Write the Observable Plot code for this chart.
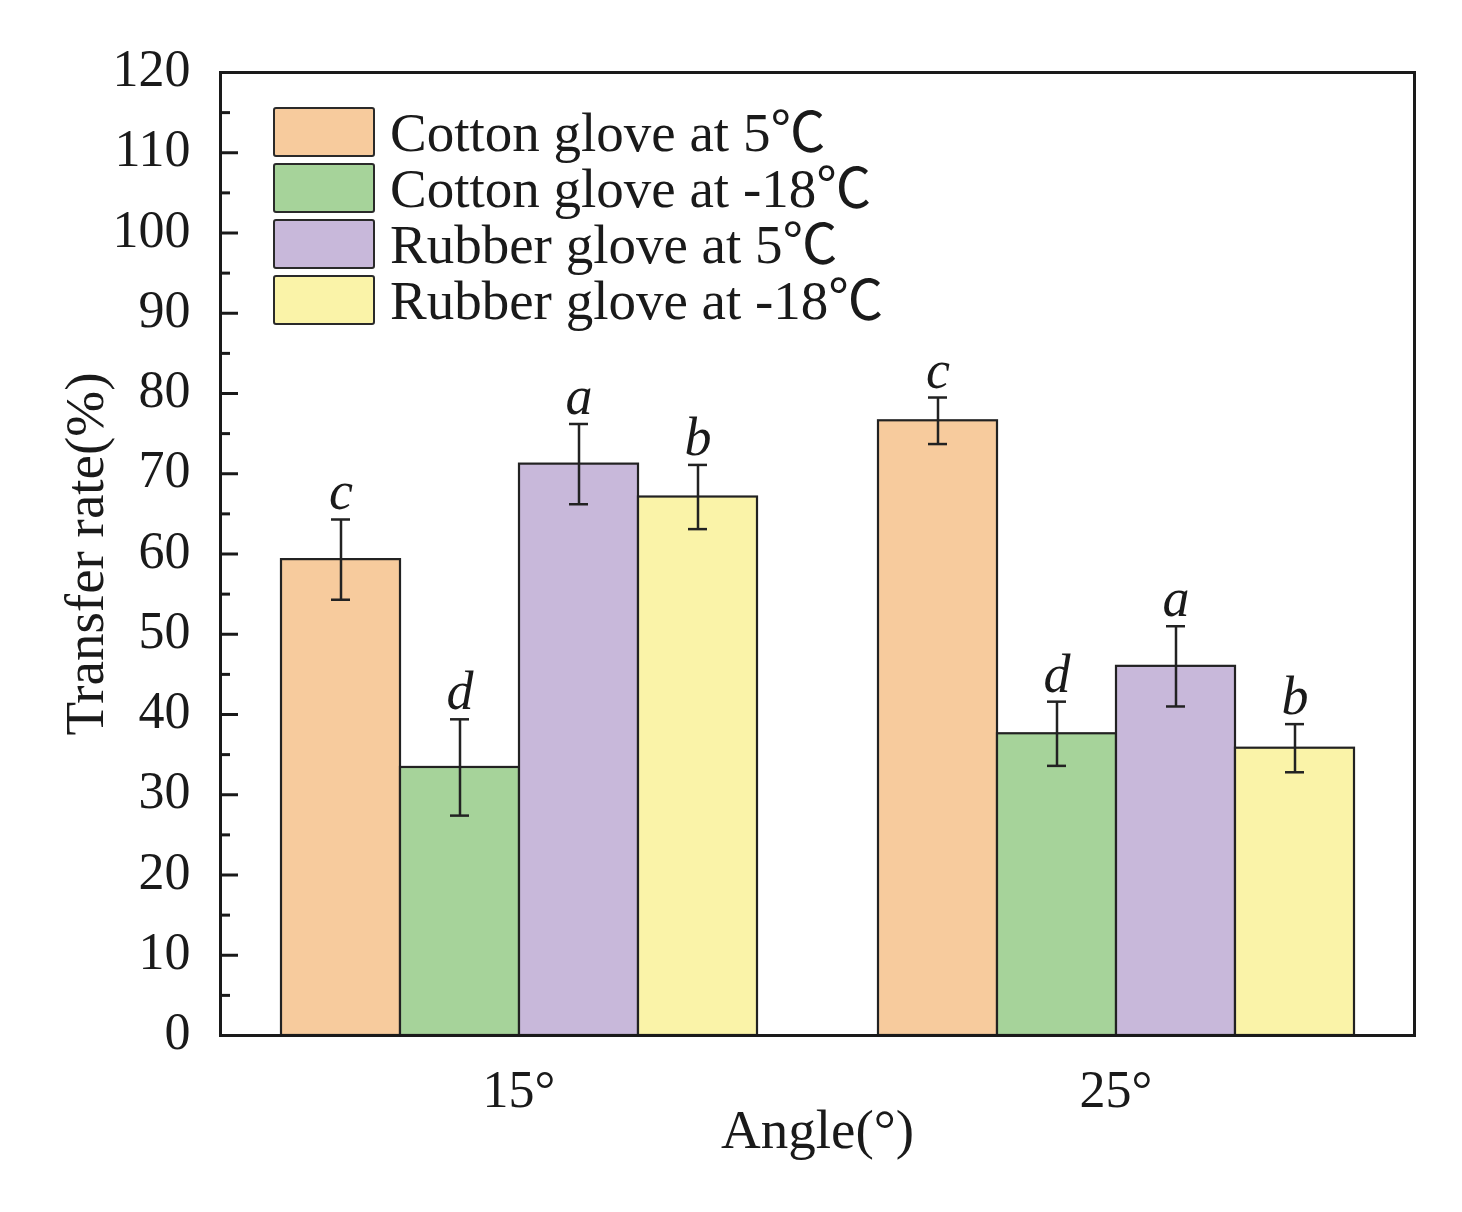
<!DOCTYPE html>
<html>
<head>
<meta charset="utf-8">
<script src="https://cdn.jsdelivr.net/npm/d3@7"></script>
<script src="https://cdn.jsdelivr.net/npm/@observablehq/plot@0.6"></script>
<style>
  body { margin: 0; background: #fff; }
  #wrap { position: relative; width: 1462px; height: 1212px; font-family: "Liberation Serif", "Times New Roman", "Noto Sans CJK SC", serif; color: #1a1a1a; }
  #legend { position: absolute; left: 273px; top: 104px; }
  .row { display: flex; align-items: center; height: 56px; }
  .sw { width: 102px; height: 50px; border: 2px solid #2a2a2a; border-radius: 3px; box-sizing: border-box; }
  .lab { margin-left: 15px; font-size: 55px; line-height: 1; white-space: nowrap; }
</style>
</head>
<body>
<div id="wrap"><div id="legend"></div></div>
<script>
const angles = ["15°", "25°"];
const series = ["Cotton glove at 5℃", "Cotton glove at -18℃", "Rubber glove at 5℃", "Rubber glove at -18℃"];
const colors = ["#f7cb9d", "#a6d39a", "#c8b8da", "#faf3a8"];
const mean15 = [59.3, 33.4, 71.2, 67.1];
const err15  = [5.0, 6.0, 5.0, 4.0];
const mean25 = [76.6, 37.6, 46.0, 35.8];
const err25  = [2.9, 4.0, 5.0, 3.0];
const letters = ["c", "d", "a", "b"];
const yTicks = d3.range(0, 121, 10);
const yMinor = d3.range(5, 120, 10);

const rows = [];
[[mean15, err15], [mean25, err25]].forEach(([m, e], gi) =>
  series.forEach((s, si) => rows.push({
    angle: angles[gi], series: s, mean: m[si],
    lo: m[si] - e[si], hi: m[si] + e[si], letter: letters[si]
  }))
);

const ink = "#1a1a1a";
const chart = Plot.plot({
  width: 1462, height: 1212,
  marginLeft: 220, marginRight: 48, marginTop: 72, marginBottom: 177,
  style: { fontFamily: "Liberation Serif, 'Times New Roman', serif", fontSize: "50px", color: ink, background: "white" },
  fx: { domain: angles, padding: 0, label: null },
  x: { domain: series, paddingInner: 0, paddingOuter: 0.5, axis: null },
  y: { domain: [0, 120] },
  color: { domain: series, range: colors },
  marks: [
    Plot.barY(rows, { fx: "angle", x: "series", y: "mean", fill: "series", stroke: "#222", strokeWidth: 2.2 }),
    Plot.ruleX(rows, { fx: "angle", x: "series", y1: "lo", y2: "hi", stroke: "#222", strokeWidth: 2.5 }),
    Plot.tickY(rows, { fx: "angle", x: "series", y: "hi", inset: 50, stroke: "#222", strokeWidth: 2.5 }),
    Plot.tickY(rows, { fx: "angle", x: "series", y: "lo", inset: 50, stroke: "#222", strokeWidth: 2.5 }),
    Plot.text(rows, { fx: "angle", x: "series", y: "hi", text: "letter", dy: -10, lineAnchor: "bottom", fontStyle: "italic", fontSize: 54, fill: ink }),
    Plot.ruleY([0, 120], { stroke: ink, strokeWidth: 3 }),
    Plot.frame({ anchor: "left", facetAnchor: "left", stroke: ink, strokeWidth: 3 }),
    Plot.frame({ anchor: "right", facetAnchor: "right", stroke: ink, strokeWidth: 3 }),
    Plot.axisY(yTicks, { anchor: "left", tickSize: -18, tickFormat: () => "", strokeWidth: 3, label: null }),
    Plot.axisY(yTicks, { anchor: "left", tickSize: 0, tickPadding: 30, label: null, fontSize: 52, dy: -3 }),
    Plot.axisY(yMinor, { anchor: "left", tickSize: -10, tickFormat: () => "", strokeWidth: 3, label: null }),
    Plot.axisFx({ anchor: "bottom", tickSize: 0, tickPadding: 35, label: null, fontSize: 52 }),
    Plot.text(["Transfer rate(%)"], { facetAnchor: "left", frameAnchor: "left", textAnchor: "middle", rotate: -90, dx: -135, fontSize: 55, fill: ink }),
    Plot.text(["Angle(°)"], { facet: "super", frameAnchor: "bottom", dy: 112, fontSize: 55, fill: ink })
  ]
});
const wrap = document.getElementById("wrap");
wrap.insertBefore(chart, wrap.firstChild);

const legend = document.getElementById("legend");
series.forEach((s, i) => {
  const row = document.createElement("div");
  row.className = "row";
  row.innerHTML = `<div class="sw" style="background:${colors[i]}"></div><div class="lab">${s}</div>`;
  legend.appendChild(row);
});
</script>
</body>
</html>
